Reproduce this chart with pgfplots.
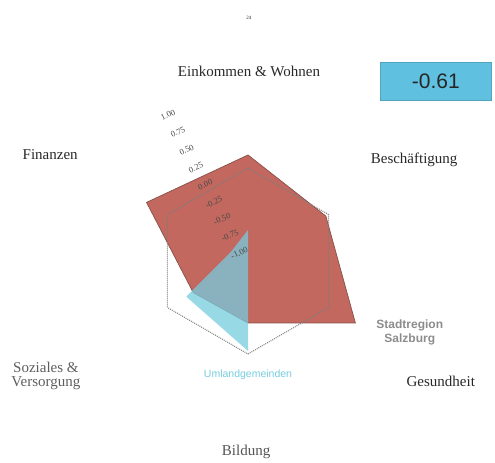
\documentclass[border=0pt]{standalone}
\usepackage{fontspec}
\setmainfont{Liberation Serif}
\newfontfamily\sansf{Liberation Sans}
\usepackage{pgfplots}
\pgfplotsset{compat=1.18}
\usepackage{pgfplotstable}
\definecolor{stadt}{RGB}{194,104,95}
\definecolor{stadtedge}{RGB}{135,80,74}
\definecolor{umland}{RGB}{118,204,222}
\definecolor{boxblue}{RGB}{96,192,224}
\definecolor{gridgray}{RGB}{125,125,125}
\definecolor{lab}{RGB}{40,40,40}
% angle (deg) and value on the -1..1 scale
\pgfplotstableread{
angle v
90 0.71
30 0.45
-30 1.00
-90 0.00
-150 0.02
-210 0.89
-270 0.71
}\stadttab
\pgfplotstableread{
angle v
90 -0.50
30 -1.00
-30 -1.00
-90 0.45
-150 0.15
-210 -0.69
-270 -0.50
}\umlandtab
\pgfplotstableread{
angle v
90 0.5
30 0.5
-30 0.5
-90 0.5
-150 0.5
-210 0.5
-270 0.5
}\gridtab
\tikzset{ticklab/.style={rotate=25, inner sep=0.5pt, font=\fontsize{8.5}{10}\selectfont, text=lab!85}}
\begin{document}
\begin{tikzpicture}
\begin{axis}[
  width=495pt, height=462pt, scale only axis,
  xmin=-4, xmax=3.984, ymin=-3.242, ymax=4.21,
  hide axis, clip=false,
]
\path (rel axis cs:0,0) rectangle (rel axis cs:1,1);
\addplot[fill=stadt, draw=stadtedge, line width=0.7pt, data cs=polar]
  table[x=angle, y expr=\thisrow{v}+1]{\stadttab};
\addplot[draw=gridgray, densely dotted, line width=1pt, data cs=polar]
  table[x=angle, y expr=\thisrow{v}+1]{\gridtab};
\addplot[fill=umland, fill opacity=0.75, draw=none, data cs=polar]
  table[x=angle, y expr=\thisrow{v}+1]{\umlandtab};
% category labels
\node[font=\fontsize{15}{17}\selectfont, text=lab] at (axis cs:0.016,3.05) {Einkommen \& Wohnen};
\node[font=\fontsize{15}{17}\selectfont, text=lab] at (axis cs:2.68,1.63) {Beschäftigung};
\node[font=\fontsize{15}{17}\selectfont, text=lab] at (axis cs:3.11,-1.94) {Gesundheit};
\node[font=\fontsize{15}{17}\selectfont, text=lab!80] at (axis cs:-0.03,-3.08) {Bildung};
\node[font=\fontsize{15}{14}\selectfont, text=lab!75, align=center] at (axis cs:-3.26,-1.85) {Soziales \&\\Versorgung};
\node[font=\fontsize{15}{17}\selectfont, text=lab] at (axis cs:-3.19,1.71) {Finanzen};
% tick labels
\node[ticklab] at (axis cs:-1.29,2.355) {1.00};
\node[ticklab] at (axis cs:-1.13,2.08) {0.75};
\node[ticklab] at (axis cs:-0.99,1.79) {0.50};
\node[ticklab] at (axis cs:-0.84,1.51) {0.25};
\node[ticklab] at (axis cs:-0.69,1.23) {0.00};
\node[ticklab] at (axis cs:-0.55,0.95) {-0.25};
\node[ticklab] at (axis cs:-0.42,0.68) {-0.50};
\node[ticklab] at (axis cs:-0.29,0.41) {-0.75};
\node[ticklab] at (axis cs:-0.14,0.13) {-1.00};
% series labels
\node[font=\sansf\bfseries\fontsize{12}{14}\selectfont, text=black!45, align=center] at (axis cs:2.61,-1.16) {Stadtregion\\Salzburg};
\node[font=\sansf\fontsize{10.5}{12}\selectfont, text=umland] at (axis cs:0,-1.84) {Umlandgemeinden};
% index box
\node[fill=boxblue, draw=boxblue!85!black, minimum width=111pt, minimum height=38pt, inner sep=0pt,
      font=\sansf\fontsize{21}{24}\selectfont, text=black!85] at (axis cs:3.03,2.90) {-0.61};
\node[font=\fontsize{5}{6}\selectfont, text=lab] at (axis cs:0.016,3.92) {24};
\end{axis}
\end{tikzpicture}
\end{document}
